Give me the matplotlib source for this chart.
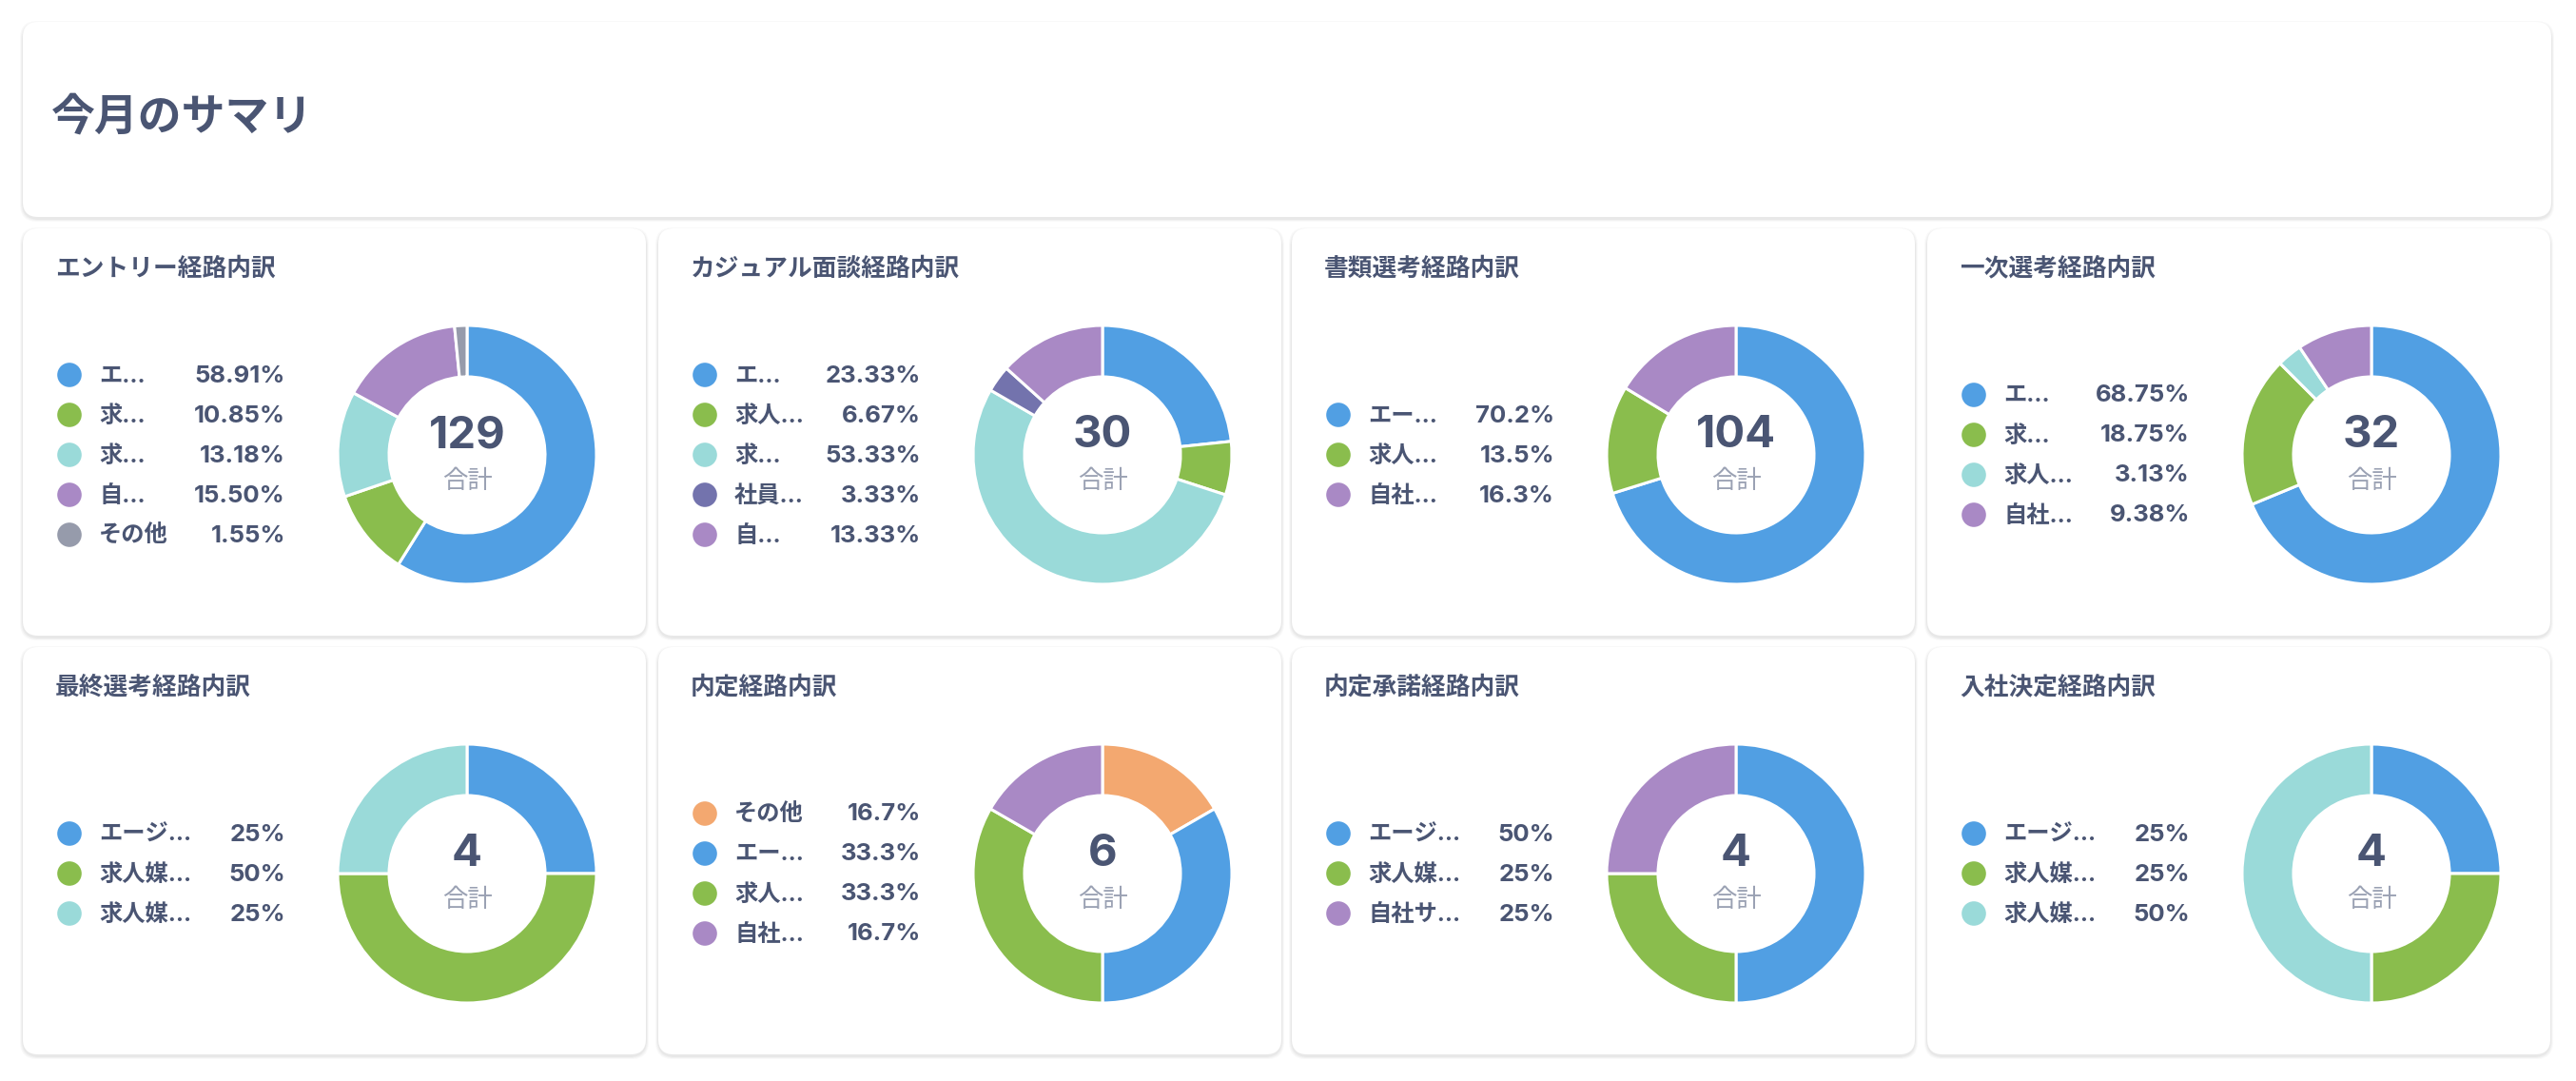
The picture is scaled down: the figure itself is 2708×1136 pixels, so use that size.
#!/usr/bin/env python3
"""Monthly summary dashboard: eight donut charts of entry-route breakdowns."""

from decimal import Decimal, ROUND_HALF_UP

import matplotlib

matplotlib.use("Agg")
import matplotlib.pyplot as plt
from matplotlib.patches import FancyBboxPatch, Circle

plt.rcParams["font.family"] = ["Inter", "Noto Sans CJK JP", "DejaVu Sans"]

# =============================================================================
# DATA
# =============================================================================

PAGE_TITLE = "今月のサマリ"

CHART_TITLES = [
    "エントリー経路内訳",
    "カジュアル面談経路内訳",
    "書類選考経路内訳",
    "一次選考経路内訳",
    "最終選考経路内訳",
    "内定経路内訳",
    "内定承諾経路内訳",
    "入社決定経路内訳",
]

LABELS = [
    ["エ…", "求…", "求…", "自…", "その他"],
    ["エ…", "求人…", "求…", "社員…", "自…"],
    ["エー…", "求人…", "自社…"],
    ["エ…", "求…", "求人…", "自社…"],
    ["エージ…", "求人媒…", "求人媒…"],
    ["その他", "エー…", "求人…", "自社…"],
    ["エージ…", "求人媒…", "自社サ…"],
    ["エージ…", "求人媒…", "求人媒…"],
]

COUNTS = [
    [76, 14, 17, 20, 2],
    [7, 2, 16, 1, 4],
    [73, 14, 17],
    [22, 6, 1, 3],
    [1, 2, 1],
    [1, 2, 2, 1],
    [2, 1, 1],
    [1, 1, 2],
]

# decimals shown in the percent column of each card
DECIMALS = [2, 2, 1, 2, 0, 1, 0, 0]

# =============================================================================
# STYLE
# =============================================================================

BLUE = "#519fe3"
GREEN = "#8abd4d"
TEAL = "#9adad9"
PURPLE = "#a989c5"
GRAY = "#969bab"
INDIGO = "#7373ad"
ORANGE = "#f3a870"

COLORS = [
    [BLUE, GREEN, TEAL, PURPLE, GRAY],
    [BLUE, GREEN, TEAL, INDIGO, PURPLE],
    [BLUE, GREEN, PURPLE],
    [BLUE, GREEN, TEAL, PURPLE],
    [BLUE, GREEN, TEAL],
    [ORANGE, BLUE, GREEN, PURPLE],
    [BLUE, GREEN, PURPLE],
    [BLUE, GREEN, TEAL],
]

TEXT = "#4a5573"
SUBTEXT = "#9aa1b3"

W, H = 2708, 1136
CARD_X = [24, 692, 1358, 2026]
CARD_Y = [240, 680]
CARD_W, CARD_H = 655, 428
R_OUT, R_IN = 136, 82
ROW_GAP = 42


def fmt_pct(value, total, decimals):
    q = Decimal(1).scaleb(-decimals)
    pct = (Decimal(value) * 100 / Decimal(total)).quantize(q, rounding=ROUND_HALF_UP)
    return f"{pct}%"


def card(ax, x, y, w, h):
    # soft shadow, then white card
    for i, a in enumerate([0.035, 0.03, 0.025]):
        grow = 2 + i * 2
        ax.add_patch(
            FancyBboxPatch(
                (x - grow / 2, y - grow / 2 + 2),
                w + grow,
                h + grow,
                boxstyle="round,pad=0,rounding_size=18",
                linewidth=0,
                facecolor="black",
                alpha=a,
                zorder=1,
            )
        )
    ax.add_patch(
        FancyBboxPatch(
            (x, y),
            w,
            h,
            boxstyle="round,pad=0,rounding_size=16",
            linewidth=0,
            facecolor="white",
            zorder=2,
        )
    )


def main():
    fig = plt.figure(figsize=(W / 100, H / 100), dpi=100)
    fig.patch.set_facecolor("white")

    bg = fig.add_axes([0, 0, 1, 1])
    bg.set_xlim(0, W)
    bg.set_ylim(H, 0)
    bg.axis("off")

    # header card
    card(bg, 24, 23, 2658, 205)
    bg.text(54, 124, PAGE_TITLE, fontsize=33, fontweight="bold", color=TEXT,
            va="center", ha="left", zorder=3)

    for k, title in enumerate(CHART_TITLES):
        x0 = CARD_X[k % 4]
        y0 = CARD_Y[k // 4]
        card(bg, x0, y0, CARD_W, CARD_H)

        bg.text(x0 + 34, y0 + 42, title, fontsize=18.5, fontweight="bold",
                color=TEXT, va="center", ha="left", zorder=3)

        counts = COUNTS[k]
        total = sum(counts)
        cx, cy = x0 + 467, y0 + 238
        n = len(counts)

        # legend
        for i, (lab, v) in enumerate(zip(LABELS[k], counts)):
            ry = cy + (i - (n - 1) / 2) * ROW_GAP
            bg.add_patch(Circle((x0 + 49, ry), 12.8, color=COLORS[k][i], zorder=3, linewidth=0))
            bg.text(x0 + 80, ry + 1, lab, fontsize=17.5, fontweight="bold",
                    color=TEXT, va="center", ha="left", zorder=3)
            bg.text(x0 + 276, ry + 1, fmt_pct(v, total, DECIMALS[k]), fontsize=18.5,
                    fontweight="bold", color=TEXT, va="center", ha="right", zorder=3)

        # donut
        pad = 1.04
        size = 2 * R_OUT * pad
        ax = fig.add_axes([(cx - R_OUT * pad) / W, 1 - (cy + R_OUT * pad) / H, size / W, size / H])
        ax.pie(
            counts,
            colors=COLORS[k],
            startangle=90,
            counterclock=False,
            radius=1,
            wedgeprops=dict(width=1 - R_IN / R_OUT, edgecolor="white", linewidth=2.2),
        )
        ax.set_xlim(-pad, pad)
        ax.set_ylim(-pad, pad)
        ax.set_aspect("equal")
        ax.axis("off")

        ax.text(0, 20 / R_OUT, str(total), fontsize=34, fontweight="bold",
                color=TEXT, ha="center", va="center")
        ax.text(0, -28 / R_OUT, "合計", fontsize=19, color=SUBTEXT, ha="center", va="center")

    fig.savefig("out.png", dpi=100, facecolor="white")


if __name__ == "__main__":
    main()
